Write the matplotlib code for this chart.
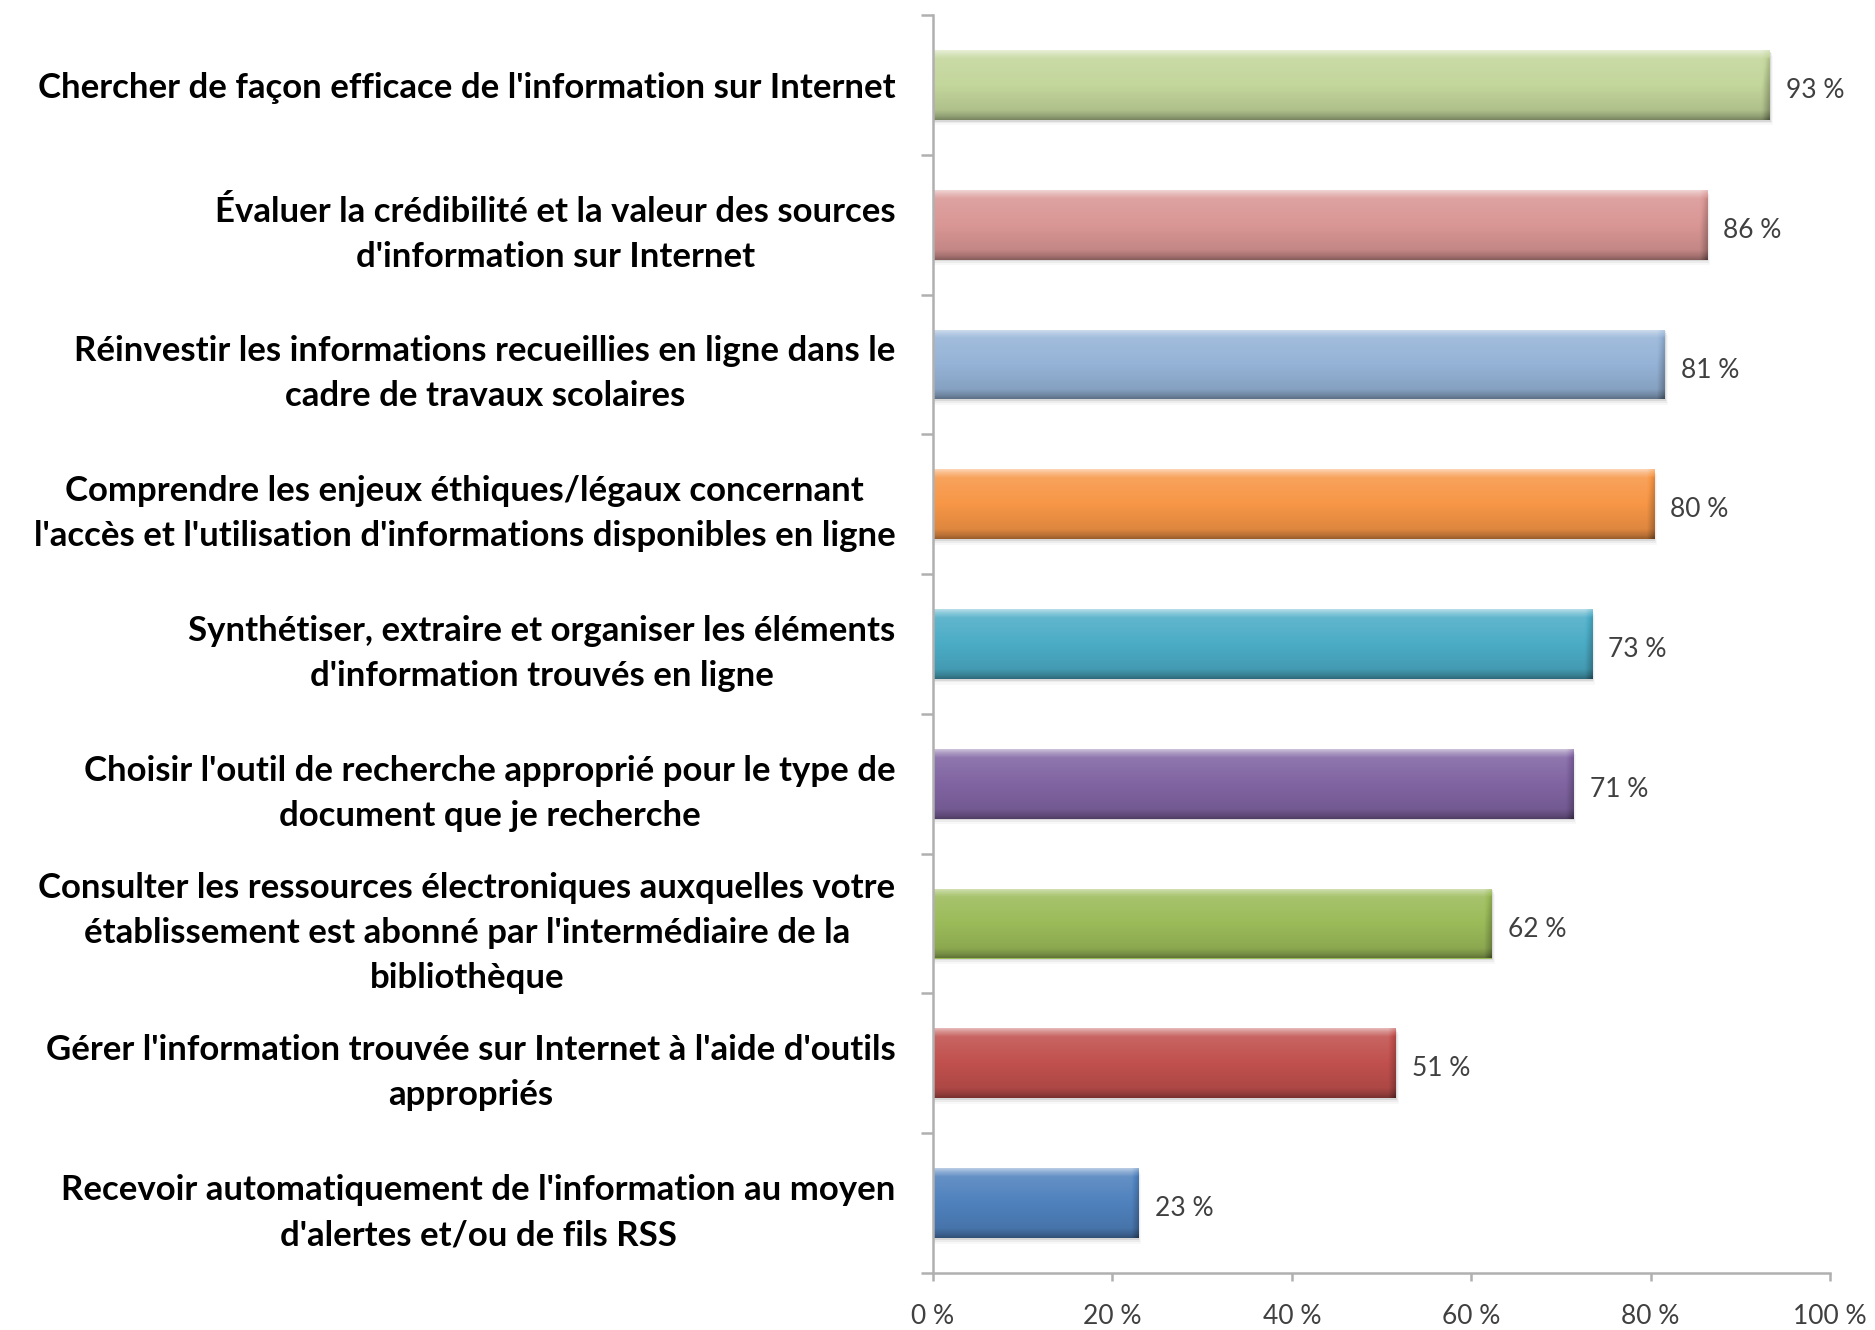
import matplotlib.pyplot as plt
import matplotlib.colors as mcolors
from matplotlib.patches import Rectangle
import numpy as np

categories = [
    "Chercher de façon efficace de l'information sur Internet",
    "Évaluer la crédibilité et la valeur des sources\nd'information sur Internet",
    "Réinvestir les informations recueillies en ligne dans le\ncadre de travaux scolaires",
    "Comprendre les enjeux éthiques/légaux concernant\nl'accès et l'utilisation d'informations disponibles en ligne",
    "Synthétiser, extraire et organiser les éléments\nd'information trouvés en ligne",
    "Choisir l'outil de recherche approprié pour le type de\ndocument que je recherche",
    "Consulter les ressources électroniques auxquelles votre\nétablissement est abonné par l'intermédiaire de la\nbibliothèque",
    "Gérer l'information trouvée sur Internet à l'aide d'outils\nappropriés",
    "Recevoir automatiquement de l'information au moyen\nd'alertes et/ou de fils RSS",
]
values = [93.3, 86.3, 81.6, 80.4, 73.5, 71.4, 62.3, 51.6, 22.9]
value_labels = ["93 %", "86 %", "81 %", "80 %", "73 %", "71 %", "62 %", "51 %", "23 %"]
bar_colors = ["#c3d69b", "#d99694", "#95b3d7", "#f79646", "#4bacc6",
              "#8064a2", "#9bbb59", "#c0504d", "#4f81bd"]
xticks = [0, 20, 40, 60, 80, 100]
xtick_labels = ["0 %", "20 %", "40 %", "60 %", "80 %", "100 %"]

plt.rcParams['font.family'] = ['Lato', 'DejaVu Sans']

axis_grey = "#b0b0b0"
text_grey = "#404040"

fig = plt.figure(figsize=(18.75, 13.3), dpi=100)
ax = fig.add_axes([933 / 1875, 57 / 1330, 897 / 1875, 1258 / 1330])

ypos = np.arange(len(categories))[::-1]
bars = ax.barh(ypos, values, height=0.5, color=bar_colors, zorder=2)

# office-2007 like bevel: vertical light->dark profile, darker right edge
t = np.linspace(0, 1, 90)
profile = np.interp(t, [0, 0.04, 0.12, 0.5, 0.86, 0.95, 1.0],
                    [0.6, 0.4, 0.12, 0.0, -0.1, -0.25, -0.38])

for bar, col, lab in zip(bars, bar_colors, value_labels):
    x0, y0 = bar.get_x(), bar.get_y()
    w, h = bar.get_width(), bar.get_height()
    base = np.array(mcolors.to_rgb(col))
    xs = np.linspace(x0, x0 + w, 400)
    edge = np.clip((xs - (x0 + w - 0.8)) / 0.8, 0, 1)
    F = profile[:, None] - 0.22 * edge[None, :]
    F = F[:, :, None]
    img = np.where(F >= 0, base + (1 - base) * F, base * (1 + F))
    img = np.clip(img, 0, 1)
    im = ax.imshow(img, extent=(x0, x0 + w, y0, y0 + h), origin='upper',
                   aspect='auto', interpolation='bilinear', zorder=3)
    im.set_clip_path(bar)

    # soft drop shadow
    for dy, a in [(0.012, 0.18), (0.025, 0.10), (0.04, 0.05)]:
        ax.add_patch(Rectangle((x0, y0 - dy), w + dy * 8, h, facecolor='#808080',
                               alpha=a, lw=0, zorder=1))

    ax.text(x0 + w + 1.8, y0 + h / 2 - 0.04, lab, ha='left', va='center',
            fontsize=19, color=text_grey, zorder=4)

ax.set_xlim(0, 100)
ax.set_ylim(-0.5, 8.5)

for s in ['top', 'right']:
    ax.spines[s].set_visible(False)
for s in ['left', 'bottom']:
    ax.spines[s].set_color(axis_grey)
    ax.spines[s].set_linewidth(1.8)
    ax.spines[s].set_zorder(5)

ax.set_yticks(ypos)
ax.set_yticklabels(categories, fontsize=25, fontweight='bold', color='black',
                   linespacing=1.5)
for lbl in ax.get_yticklabels():
    lbl.set_multialignment('center')
ax.set_yticks(np.arange(-0.5, len(categories)), minor=True)
ax.tick_params(axis='y', which='major', length=0, pad=27)
ax.tick_params(axis='y', which='minor', length=8.6, width=1.8, color=axis_grey)

ax.set_xticks(xticks)
ax.set_xticklabels(xtick_labels)
ax.tick_params(axis='x', which='major', length=6, width=1.8, color=axis_grey,
               labelsize=19, labelcolor=text_grey, pad=16)

fig.savefig('out.png', dpi=100)
